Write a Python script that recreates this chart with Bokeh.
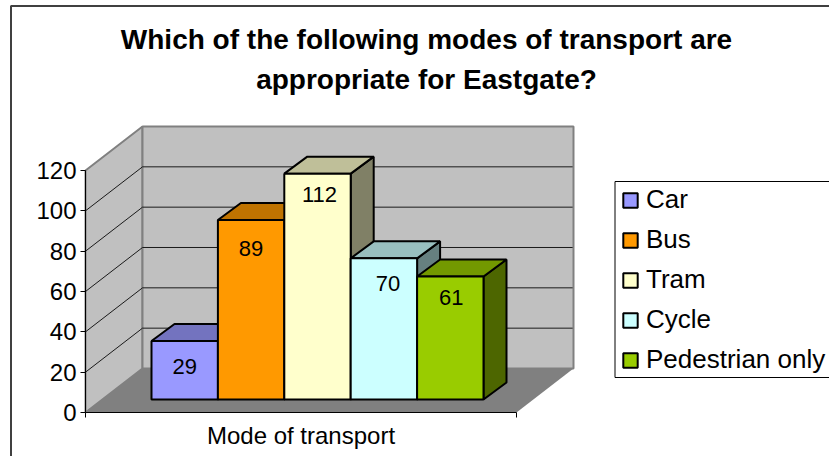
from bokeh.plotting import figure
from bokeh.embed import file_html
from bokeh.resources import INLINE
from bokeh.core.properties import value
from bokeh.models import LinearAxis, FixedTicker, Legend, LegendItem, Range1d

title_lines = ["Which of the following modes of transport are", "appropriate for Eastgate?"]
categories = ["Car", "Bus", "Tram", "Cycle", "Pedestrian only"]
values = [29, 89, 112, 70, 61]
colors = ["#9999FF", "#FF9900", "#FFFFCC", "#CCFFFF", "#99CC00"]
top_colors = ["#7373BF", "#BF7300", "#BFBF99", "#99BFBF", "#739900"]
side_colors = ["#4D4D80", "#804D00", "#808066", "#668080", "#4D6600"]
y_ticks = [0, 20, 40, 60, 80, 100, 120]
x_label = "Mode of transport"
label_dx = [0, 0, 2, 4, 1]
label_dy = [25, 28, 21, 25, 21]

W, H = 829, 456
FONT = "Liberation Sans"
PX_X = 431.0   # pixels per x unit (floor width)
PX_Y = 2.0167  # pixels per value unit
X0, Y0 = 85.0, 412.0

def fx(px): return (px - X0) / PX_X
def fy(py): return (Y0 - py) / PX_Y

p = figure(width=W, height=H, output_backend="svg", toolbar_location=None,
           x_range=Range1d(fx(0), fx(W)), y_range=Range1d(fy(H), fy(0)),
           min_border=0, outline_line_color=None, background_fill_color="white",
           x_axis_type=None, y_axis_type=None, margin=0)
p.grid.visible = False

DX, DY = 57 / PX_X, 44 / PX_Y        # wall depth
YMAX = y_ticks[-1]

# walls and floor
p.patch([0, DX, DX, 0], [0, DY, YMAX + DY, YMAX], fill_color="#C0C0C0", line_color="#808080", line_width=2)
p.patch([DX, 1 + DX, 1 + DX, DX], [DY, DY, YMAX + DY, YMAX + DY], fill_color="#C0C0C0", line_color="#808080", line_width=2)
p.patch([0, 1, 1 + DX, DX], [0, 0, DY, DY], fill_color="#808080", line_color=None)
for t in y_ticks[1:-1]:
    p.line([0, DX, 1 + DX - 0.002], [t, t + DY, t + DY], line_color="#1a1a1a", line_width=1)

# bars
BAR = 66.4 / PX_X
BX0 = fx(151)
BY0 = fy(399)
BDX, BDY = 23 / PX_X, 17 / PX_Y
renderers = []
for i, v in enumerate(values):
    l, r, t = BX0 + i * BAR, BX0 + (i + 1) * BAR, BY0 + v
    p.patch([r, r + BDX, r + BDX, r], [BY0, BY0 + BDY, t + BDY, t], fill_color=side_colors[i], line_color="black", line_width=2)
    p.patch([l, r, r + BDX, l + BDX], [t, t, t + BDY, t + BDY], fill_color=top_colors[i], line_color="black", line_width=2)
    rr = p.patch([l, r, r, l], [BY0, BY0, t, t], fill_color=colors[i], line_color="black", line_width=2)
    renderers.append(rr)
    p.text([(l + r) / 2 + label_dx[i] / PX_X], [t - label_dy[i] / PX_Y], text=[str(v)], text_align="center", text_baseline="middle",
           text_font=value(FONT), text_font_size="22px", text_color="black")

# axes
ya = LinearAxis(fixed_location=0, ticker=FixedTicker(ticks=y_ticks), bounds=(0, YMAX),
                major_label_text_font=FONT, major_label_text_font_size="24px", major_label_text_color="black",
                major_tick_in=0, major_tick_out=5, minor_tick_line_color=None,
                axis_line_color="black", major_tick_line_color="black", major_label_standoff=4)
p.add_layout(ya, "left")
xa = LinearAxis(fixed_location=0, ticker=FixedTicker(ticks=[0, 1]), bounds=(0, 1),
                major_label_overrides={0: "", 1: ""},
                major_tick_in=0, major_tick_out=5, minor_tick_line_color=None,
                axis_line_color="black", major_tick_line_color="black")
p.add_layout(xa, "below")
p.text([0.5], [fy(435)], text=[x_label], text_align="center", text_baseline="middle",
       text_font=value(FONT), text_font_size="24px")

# titles
for line, py in zip(title_lines, (39, 79)):
    p.text([fx(426)], [fy(py)], text=[line], text_align="center", text_baseline="middle",
           text_font=value(FONT), text_font_size="28px", text_font_style="bold")

# chart border
p.line([fx(10.5), fx(10.5), fx(829)], [fy(456), fy(5.5), fy(5.5)], line_color="#404040", line_width=2)

# legend box (open to the right, clipped by the page edge)
p.quad(left=[fx(614.5)], right=[fx(835)], top=[fy(181)], bottom=[fy(377)],
       fill_color="white", line_color="black", line_width=1)

legend = Legend(items=[LegendItem(label=c, renderers=[r]) for c, r in zip(categories, renderers)],
                location=(621, 81), orientation="vertical", margin=0, padding=3, spacing=9,
                glyph_width=18, glyph_height=18, label_standoff=7, label_height=24,
                label_text_font=FONT, label_text_font_size="26px", label_text_color="black",
                border_line_color=None, background_fill_alpha=0)
p.add_layout(legend, "center")

open("out.html", "w").write(file_html(p, INLINE))
